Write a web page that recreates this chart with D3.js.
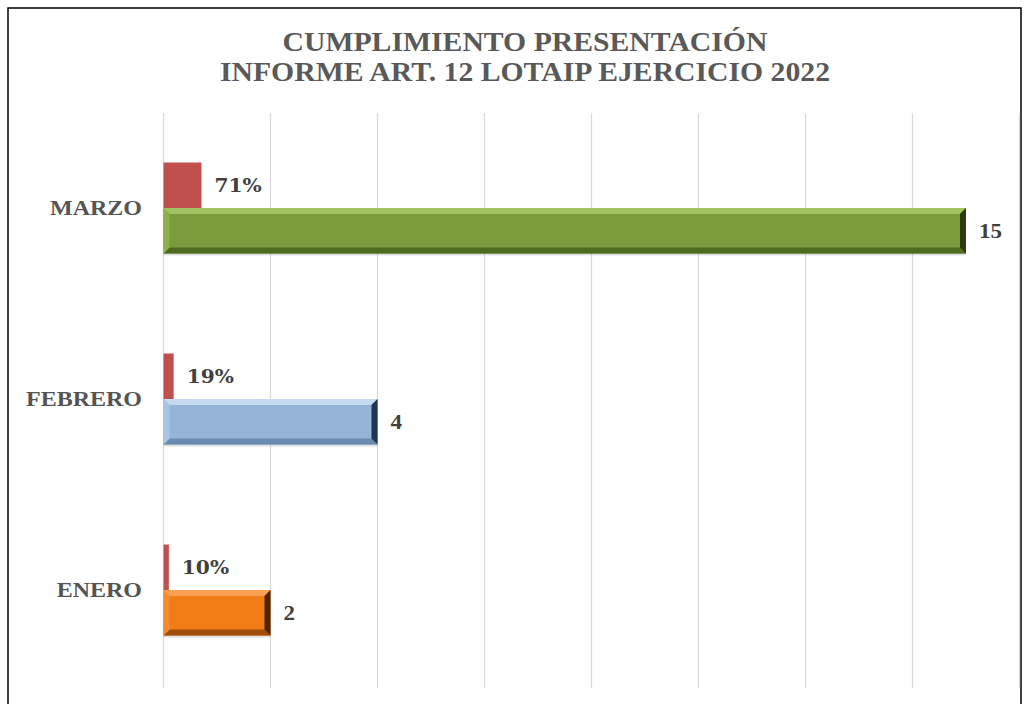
<!DOCTYPE html>
<html><head><meta charset="utf-8">
<script src="https://cdn.jsdelivr.net/npm/d3@7"></script>
<style>html,body{margin:0;padding:0;background:#fff;overflow:hidden}</style>
</head><body>
<svg id="chart" width="1030" height="704"></svg>
<script>
const titleLines = ["CUMPLIMIENTO PRESENTACIÓN", "INFORME ART. 12 LOTAIP EJERCICIO 2022"];
const categories = ["MARZO", "FEBRERO", "ENERO"];
const counts = [15, 4, 2];
const percents = [0.71, 0.19, 0.10];
const percentLabels = ["71%", "19%", "10%"];
const xTicks = [0, 2, 4, 6, 8, 10, 12, 14, 16];
const barColors = [
  {face:"#7b9b3d", top:"#a3c363", bottom:"#4f6b22", left:"#8fae4c", right:"#2c3a12"},
  {face:"#96b4d8", top:"#c6daf1", bottom:"#6a8ab0", left:"#a9c4e3", right:"#1e3450"},
  {face:"#f07c16", top:"#f9a055", bottom:"#a04d0a", left:"#f48c30", right:"#4e2404"}
];
const pctColor = "#c0504d";

const svg = d3.select("#chart");
function fitText(sel, factor){
  sel.each(function(){
    const len = this.getComputedTextLength();
    d3.select(this).attr("textLength", len*factor).attr("lengthAdjust","spacingAndGlyphs");
  });
}

// border
svg.append("rect").attr("x",8).attr("y",8).attr("width",1013).attr("height",720)
  .attr("fill","none").attr("stroke","#000").attr("stroke-width",1.5);

// title
svg.selectAll("text.title").data(titleLines).join("text")
  .attr("class","title")
  .attr("x",525).attr("y",(d,i)=>51+i*30)
  .attr("text-anchor","middle")
  .attr("font-family","'Liberation Serif','Times New Roman',serif")
  .attr("font-weight","bold").attr("font-size",27.5)
  .attr("fill","#595959")
  .text(d=>d)
  .call(fitText, 1.08);

const x = d3.scaleLinear().domain([0,16]).range([163.5,1019.5]);
const y = d3.scaleBand().domain(categories).range([113,686]);

// gridlines
svg.append("g").selectAll("line").data(xTicks).join("line")
  .attr("x1",d=>x(d)).attr("x2",d=>x(d))
  .attr("y1",113).attr("y2",688)
  .attr("stroke","#d9d9d9").attr("stroke-width",1.2);

const half = 45.5;
const b = 6;

categories.forEach((cat,i)=>{
  const cy = y(cat) + y.bandwidth()/2 - 0.5;
  const x0 = x(0);
  // percent bar
  const px1 = x(percents[i]);
  svg.append("rect").attr("x",x0).attr("y",cy-half).attr("width",px1-x0).attr("height",half)
    .attr("fill",pctColor);
  svg.append("text").attr("x",px1+13).attr("y",cy-half/2+7)
    .attr("font-family","'DejaVu Serif',serif").attr("font-weight","bold").attr("font-size",18)
    .attr("fill","#404040").text(percentLabels[i]).call(fitText,1.12);

  // main bar with bevel
  const x1 = x(counts[i]);
  const y0 = cy, y1 = cy + half;
  const c = barColors[i];
  const g = svg.append("g");
  g.append("rect").attr("x",x0).attr("y",y0+2).attr("width",x1-x0).attr("height",half)
    .attr("fill","#000").attr("opacity",0.12);
  g.append("rect").attr("x",x0).attr("y",y0).attr("width",x1-x0).attr("height",half).attr("fill",c.face);
  const poly = pts => pts.map(p=>p.join(",")).join(" ");
  g.append("polygon").attr("points",poly([[x0,y0],[x1,y0],[x1-b,y0+b],[x0+b,y0+b]])).attr("fill",c.top);
  g.append("polygon").attr("points",poly([[x0,y1],[x1,y1],[x1-b,y1-b],[x0+b,y1-b]])).attr("fill",c.bottom);
  g.append("polygon").attr("points",poly([[x0,y0],[x0,y1],[x0+b,y1-b],[x0+b,y0+b]])).attr("fill",c.left);
  g.append("polygon").attr("points",poly([[x1,y0],[x1,y1],[x1-b,y1-b],[x1-b,y0+b]])).attr("fill",c.right);
  svg.append("text").attr("x",x1+13).attr("y",y0+half/2+7)
    .attr("font-family","'Liberation Serif','Times New Roman',serif").attr("font-weight","bold").attr("font-size",20)
    .attr("fill","#404040").text(counts[i]).call(fitText,1.15);

  // category label
  svg.append("text").attr("x",142).attr("y",cy+7)
    .attr("text-anchor","end")
    .attr("font-family","'Liberation Serif','Times New Roman',serif").attr("font-weight","bold").attr("font-size",20)
    .attr("fill","#555555").text(cat).call(fitText,1.2);
});
</script>
</body></html>
